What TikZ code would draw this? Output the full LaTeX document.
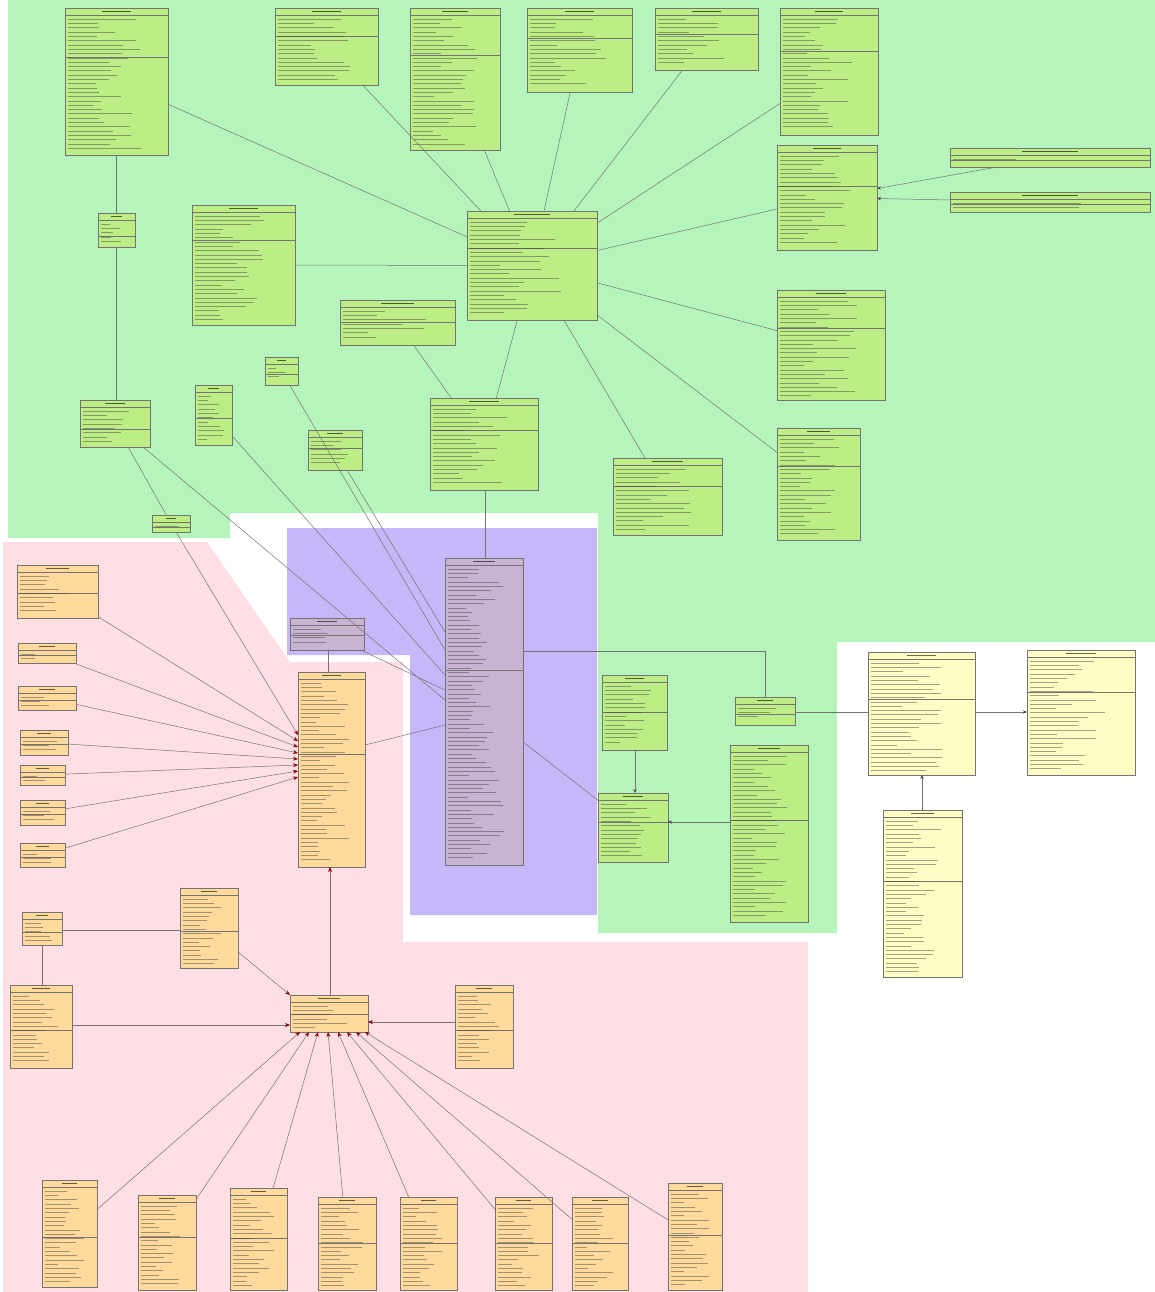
\documentclass[tikz,border=0pt]{standalone}
\usetikzlibrary{arrows.meta,calc}
\definecolor{greenbg}{HTML}{B5F5BB}
\definecolor{pinkbg}{HTML}{FFDFE3}
\definecolor{purplebg}{HTML}{C6B8F8}
\definecolor{greenbox}{HTML}{BDEE86}
\definecolor{orangebox}{HTML}{FFDA9C}
\definecolor{purplebox}{HTML}{C8B4D2}
\definecolor{yellowbox}{HTML}{FFFCC4}
\tikzset{
  clsbox/.style={draw=black!55,line width=0.5pt,inner sep=0pt,outer sep=0pt,rectangle},
  clsline/.style={draw=black!55,line width=0.4pt},
  titlestroke/.style={draw=black,opacity=0.6,line width=1.4pt},
  txtstroke/.style={draw=black!75,opacity=0.48,line width=0.9pt},
  conn/.style={draw=black!55,line width=0.5pt},
  rarr/.style={conn,-{Stealth[length=5pt,width=4pt,color=red!55!black]}},
  garr/.style={conn,-{Stealth[length=4pt,width=3.5pt,color=black!70]}}
}
% name, x1, y1, x2, y2, fill, separator fraction
\newcommand\umlcls[7]{%
  \pgfmathsetmacro\cw{#4-#2}\pgfmathsetmacro\chh{#5-#3}%
  \node[clsbox,fill=#6,minimum width=\cw pt,minimum height=\chh pt,anchor=north west] (#1) at (#2,#3) {};
  \draw[clsline] (#2,#3+7) -- (#4,#3+7);
  \pgfmathsetmacro\sy{#3+7+(#5-#3-7)*#7}%
  \draw[clsline] (#2,\sy) -- (#4,\sy);
  \draw[titlestroke] ({(#2+#4)/2-\cw*0.14},#3+3.5) -- ({(#2+#4)/2+\cw*0.14},#3+3.5);
  \pgfmathtruncatemacro\nl{max(1,(#5-#3-11)/4.3)}%
  \foreach \k in {1,...,\nl}{%
    \pgfmathsetmacro\ty{#3+7+\k*4.3}%
    \pgfmathsetmacro\tl{#2+3+\cw*(0.22+0.5*rnd)}%
    \draw[txtstroke] (#2+3,\ty) -- (\tl,\ty);
  }%
}
\begin{document}
\begin{tikzpicture}[x=1pt,y=-1pt]
\pgfmathsetseed{7}
\useasboundingbox (0,0) rectangle (1155,1292);
\fill[white] (0,0) rectangle (1155,1292);
% regions
\fill[greenbg] (8,0) -- (1155,0) -- (1155,642) -- (837,642) -- (837,933) -- (598,933) -- (598,513) -- (230,513) -- (230,538) -- (8,538) -- cycle;
\fill[purplebg] (287,528) -- (597,528) -- (597,915) -- (410,915) -- (410,655) -- (287,655) -- cycle;
\fill[pinkbg] (3,542) -- (207,542) -- (290,662) -- (403,662) -- (403,942) -- (808,942) -- (808,1292) -- (3,1292) -- cycle;

% green classes
\umlcls{G1}{65}{8}{168}{155}{greenbox}{0.3}
\umlcls{G2}{275}{8}{378}{85}{greenbox}{0.3}
\umlcls{G3}{410}{8}{500}{150}{greenbox}{0.3}
\umlcls{G4}{527}{8}{632}{92}{greenbox}{0.3}
\umlcls{G5}{655}{8}{758}{70}{greenbox}{0.35}
\umlcls{G6}{780}{8}{878}{135}{greenbox}{0.3}
\umlcls{G7}{98}{213}{135}{247}{greenbox}{0.6}
\umlcls{G8}{192}{205}{295}{325}{greenbox}{0.25}
\umlcls{G9}{467}{211}{597}{320}{greenbox}{0.3}
\umlcls{G10}{777}{145}{877}{250}{greenbox}{0.35}
\umlcls{G11}{950}{148}{1150}{167}{greenbox}{0.4}
\umlcls{G12}{950}{192}{1150}{212}{greenbox}{0.4}
\umlcls{G13}{340}{300}{455}{345}{greenbox}{0.4}
\umlcls{G14}{777}{290}{885}{400}{greenbox}{0.3}
\umlcls{G15}{265}{357}{298}{385}{greenbox}{0.5}
\umlcls{G16}{80}{400}{150}{447}{greenbox}{0.55}
\umlcls{G17}{195}{385}{232}{445}{greenbox}{0.5}
\umlcls{G18}{308}{430}{362}{470}{greenbox}{0.35}
\umlcls{G19}{430}{398}{538}{490}{greenbox}{0.3}
\umlcls{G20}{613}{458}{722}{535}{greenbox}{0.3}
\umlcls{G21}{777}{428}{860}{540}{greenbox}{0.3}
\umlcls{G22}{152}{515}{190}{532}{greenbox}{0.5}
\umlcls{G23}{602}{675}{667}{750}{greenbox}{0.45}
\umlcls{G24}{598}{793}{668}{862}{greenbox}{0.35}
\umlcls{G25}{730}{745}{808}{922}{greenbox}{0.4}
\umlcls{G26}{735}{697}{795}{725}{greenbox}{0.5}
% purple classes
\umlcls{P1}{445}{558}{523}{865}{purplebox}{0.35}
\umlcls{P2}{290}{618}{364}{650}{purplebox}{0.4}
% yellow classes
\umlcls{W1}{868}{652}{975}{775}{yellowbox}{0.35}
\umlcls{W2}{1027}{650}{1135}{775}{yellowbox}{0.3}
\umlcls{W3}{883}{810}{962}{977}{yellowbox}{0.4}
% orange classes
\umlcls{O1}{17}{565}{98}{618}{orangebox}{0.45}
\umlcls{O2}{18}{643}{76}{663}{orangebox}{0.4}
\umlcls{O3}{18}{686}{76}{710}{orangebox}{0.4}
\umlcls{O4}{20}{730}{68}{755}{orangebox}{0.4}
\umlcls{O5}{20}{765}{65}{785}{orangebox}{0.4}
\umlcls{O6}{20}{800}{65}{825}{orangebox}{0.4}
\umlcls{O7}{20}{843}{65}{867}{orangebox}{0.4}
\umlcls{O8}{298}{672}{365}{867}{orangebox}{0.4}
\umlcls{O9}{180}{888}{238}{968}{orangebox}{0.5}
\umlcls{O10}{22}{912}{62}{945}{orangebox}{0.5}
\umlcls{O11}{10}{985}{72}{1068}{orangebox}{0.5}
\umlcls{O12}{290}{995}{368}{1032}{orangebox}{0.4}
\umlcls{O13}{455}{985}{513}{1068}{orangebox}{0.5}
\umlcls{O14}{42}{1180}{97}{1287}{orangebox}{0.5}
\umlcls{O15}{138}{1195}{196}{1290}{orangebox}{0.4}
\umlcls{O16}{230}{1188}{287}{1290}{orangebox}{0.45}
\umlcls{O17}{318}{1197}{376}{1290}{orangebox}{0.45}
\umlcls{O18}{400}{1197}{457}{1290}{orangebox}{0.45}
\umlcls{O19}{495}{1197}{552}{1290}{orangebox}{0.45}
\umlcls{O20}{572}{1197}{628}{1290}{orangebox}{0.45}
\umlcls{O21}{668}{1183}{722}{1290}{orangebox}{0.45}

% green connectors
\foreach \s in {G1,G2,G3,G4,G5,G6,G8,G10,G14,G19,G20,G21}{\draw[conn] (\s) -- (G9);}
\draw[garr] (G11) -- (G10);
\draw[garr] (G12) -- (G10);
\draw[conn] (G13) -- (G19);
\draw[conn] (G7.north |- G1.south) -- (G7.north);
\draw[conn] (G7.south) -- (G7.south |- G16.north);
\draw[conn] (G16) -- (G22);
\draw[conn] (G19.south -| 485,0) -- (P1.north -| 485,0);
\draw[conn] (G16) -- (P1.west |- 0,700);
\draw[conn] (G17) -- (P1.west |- 0,675);
\draw[conn] (G15) -- (P1.west |- 0,650);
\draw[conn] (G18) -- (P1.west |- 0,632);
\draw[conn] (P2) -- (P1.west |- 0,690);
\draw[conn] (O8.east |- 0,745) -- (P1.west |- 0,725);
\draw[conn] (P1.east |- 0,742) -- (G24);
\draw[conn] (P1.east |- 0,651) -| (G26.north);
\draw[garr] (G23.south -| 635,0) -- (G24.north -| 635,0);
\draw[garr] (G25.west |- 0,822) -- (G24.east |- 0,822);
\draw[conn] (G26.east |- 0,712) -- (W1.west |- 0,712);
\draw[garr] (W1.east |- 0,712) -- (W2.west |- 0,712);
\draw[garr] (W3.north -| 922,0) -- (W1.south -| 922,0);
\draw[conn] (P2.south -| 328,0) -- (O8.north -| 328,0);

% pink connectors
\draw[rarr] (G22) -- (O8.west |- 0,735);
\draw[rarr] (O1) -- (O8.west |- 0,741);
\draw[rarr] (O2) -- (O8.west |- 0,747);
\draw[rarr] (O3) -- (O8.west |- 0,753);
\draw[rarr] (O4) -- (O8.west |- 0,759);
\draw[rarr] (O5) -- (O8.west |- 0,765);
\draw[rarr] (O6) -- (O8.west |- 0,771);
\draw[rarr] (O7) -- (O8.west |- 0,777);
\draw[rarr] (O12.north -| 330,0) -- (O8.south -| 330,0);
\draw[conn] (O10.east |- 0,930) -- (O9.west |- 0,930);
\draw[conn] (O10.south -| 42,0) -- (O11.north -| 42,0);
\draw[rarr] (O9) -- (O12.north west);
\draw[rarr] (O11.east |- 0,1025) -- (O12.west |- 0,1025);
\draw[rarr] (O13.west |- 0,1022) -- (O12.east |- 0,1022);
\draw[rarr] (O14) -- (O12.south -| 300,0);
\draw[rarr] (O15) -- (O12.south -| 309,0);
\draw[rarr] (O16) -- (O12.south -| 318,0);
\draw[rarr] (O17) -- (O12.south -| 328,0);
\draw[rarr] (O18) -- (O12.south -| 338,0);
\draw[rarr] (O19) -- (O12.south -| 347,0);
\draw[rarr] (O20) -- (O12.south -| 356,0);
\draw[rarr] (O21) -- (O12.south -| 365,0);
\end{tikzpicture}
\end{document}
